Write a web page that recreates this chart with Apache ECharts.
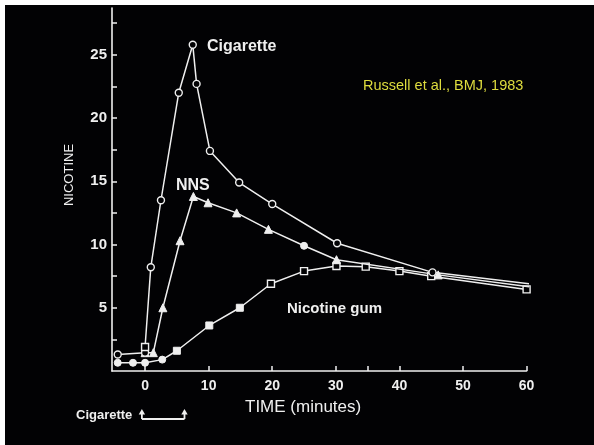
<!DOCTYPE html>
<html>
<head>
<meta charset="utf-8">
<script src="https://cdn.jsdelivr.net/npm/echarts@6/dist/echarts.min.js"></script>
<style>
  html, body { margin: 0; padding: 0; background: #fff; }
  #chart {
    width: 594px; height: 445px;
    background: linear-gradient(#020204, #020204) 5px 5px / 589px 440px no-repeat, #fff;
  }
</style>
</head>
<body>
<div id="chart"></div>
<script>
// Plasma nicotine after a cigarette, nasal nicotine solution and nicotine gum
// Each point: [time in minutes, nicotine concentration]
const cigarette = [
  [-4.3, 1.3], [0, 1.45], [0, 1.9], [0.9, 8.2], [2.5, 13.5], [5.3, 22.0],
  [7.5, 25.8], [8.1, 22.7], [10.2, 17.4], [14.8, 14.9], [20.0, 13.2],
  [30.2, 10.1], [45.2, 7.8], [60.4, 6.9]
];
const nns = [
  [0, 1.45], [1.3, 1.45], [2.8, 5.0], [5.5, 10.3], [7.6, 13.8], [9.9, 13.3],
  [14.4, 12.5], [19.4, 11.2], [25.0, 9.9], [30.1, 8.8], [46.1, 7.6], [61.2, 6.6]
];
const nicotineGum = [
  [-4.3, 0.65], [-1.9, 0.65], [0, 0.65], [2.7, 0.9], [5.0, 1.6], [10.1, 3.6],
  [14.9, 5.0], [19.8, 6.9], [25.0, 7.9], [30.1, 8.3], [34.7, 8.25],
  [40.0, 7.9], [45.0, 7.5], [60.0, 6.45]
];
// Symbol kinds per point
const cigaretteMarks = ['o','o','s','o','o','o','o','o','o','o','o','o','o','o'];
const nnsMarks = ['T','T','T','T','T','T','T','T','C','T','T','T'];
const gumMarks = ['C','C','C','C','S','S','S','s','s','s','s','s','s','s'];

const xTicks = [0, 10, 20, 30, 35, 40, 50, 60];
const xLabels = [0, 10, 20, 30, 40, 50, 60];
const yTicks = [2.5, 5, 7.5, 10, 12.5, 15, 17.5, 20, 22.5, 25, 27.5];
const yLabels = [5, 10, 15, 20, 25];
const smokingPeriod = [-0.5, 6.2];

const INK = '#efefef';
const BG = '#020204';
const FONT = '"Liberation Sans", Arial, Helvetica, sans-serif';

function styled(points, marks) {
  return points.map((p, i) => {
    const m = marks[i];
    const item = { value: p };
    if (m === 'o') { item.symbol = 'circle'; item.symbolSize = 7; item.itemStyle = { color: BG, borderColor: INK, borderWidth: 1.4 }; }
    if (m === 'C') { item.symbol = 'circle'; item.symbolSize = 7; item.itemStyle = { color: INK, borderColor: INK, borderWidth: 1 }; }
    if (m === 's') { item.symbol = 'rect'; item.symbolSize = 7; item.itemStyle = { color: BG, borderColor: INK, borderWidth: 1.4 }; }
    if (m === 'S') { item.symbol = 'rect'; item.symbolSize = 7; item.itemStyle = { color: INK, borderColor: INK, borderWidth: 1 }; }
    if (m === 'T') { item.symbol = 'triangle'; item.symbolSize = 8; item.itemStyle = { color: INK, borderColor: INK, borderWidth: 1 }; }
    return item;
  });
}

function lineSeries(name, points, marks, z) {
  return {
    name, type: 'line', z,
    data: styled(points, marks),
    lineStyle: { color: INK, width: 1.5 },
    emphasis: { disabled: true },
    animation: false
  };
}

const chart = echarts.init(document.getElementById('chart'), null, { renderer: 'canvas' });

const axisText = { color: INK, fontFamily: FONT, fontWeight: 'bold' };

chart.setOption({
  backgroundColor: 'transparent',
  animation: false,
  grid: { left: 112, right: 67.4, top: 8, bottom: 74 },
  xAxis: {
    type: 'value', min: -5.2, max: 60,
    axisLine: { show: true, onZero: false, lineStyle: { color: INK, width: 1.6 } },
    axisTick: { show: true, inside: true, length: 5, customValues: xTicks, lineStyle: { color: INK, width: 1.5 } },
    axisLabel: { ...axisText, fontSize: 14, margin: 8, customValues: xLabels },
    splitLine: { show: false }
  },
  yAxis: {
    type: 'value', min: 0, max: 28.7,
    axisLine: { show: true, onZero: false, lineStyle: { color: INK, width: 1.6 } },
    axisTick: { show: true, inside: true, length: 5, customValues: yTicks, lineStyle: { color: INK, width: 1.5 } },
    axisLabel: { ...axisText, fontSize: 15, margin: 5, customValues: yLabels },
    splitLine: { show: false }
  },
  series: [
    lineSeries('Nicotine gum', nicotineGum, gumMarks, 3),
    lineSeries('NNS', nns, nnsMarks, 4),
    lineSeries('Cigarette', cigarette, cigaretteMarks, 5)
  ]
});

// Smoking-period bracket below the time axis, plus titles and annotations
const xL = chart.convertToPixel({ xAxisIndex: 0 }, smokingPeriod[0]);
const xR = chart.convertToPixel({ xAxisIndex: 0 }, smokingPeriod[1]);
const tipY = 409, baseY = 419;
function arrow(x) {
  return [
    { type: 'line', shape: { x1: x, y1: tipY + 3, x2: x, y2: baseY }, style: { stroke: INK, lineWidth: 1.8 } },
    { type: 'polygon', shape: { points: [[x, tipY], [x - 3.2, tipY + 5.5], [x + 3.2, tipY + 5.5]] }, style: { fill: INK } }
  ];
}
function text(x, y, str, size, weight, color, extra) {
  return Object.assign({
    type: 'text', x, y,
    style: { text: str, fill: color || INK, font: `${weight} ${size}px ${FONT}`, textVerticalAlign: 'middle', textAlign: 'left' }
  }, extra || {});
}

chart.setOption({
  graphic: [
    ...arrow(xL), ...arrow(xR),
    { type: 'line', shape: { x1: xL, y1: baseY, x2: xR, y2: baseY }, style: { stroke: INK, lineWidth: 1.8 } },
    text(76, 415, 'Cigarette', 13, 'bold'),
    text(207, 47, 'Cigarette', 16, 'bold'),
    text(176, 186, 'NNS', 16, 'bold'),
    text(287, 309, 'Nicotine gum', 15, 'bold'),
    text(363, 86, 'Russell et al., BMJ, 1983', 14.5, 'normal', '#dedc3e'),
    text(245, 407, 'TIME (minutes)', 17, 'normal'),
    {
      type: 'text', x: 69, y: 175, rotation: Math.PI / 2,
      style: { text: 'NICOTINE', fill: INK, font: `normal 13px ${FONT}`, textAlign: 'center', textVerticalAlign: 'middle' }
    }
  ]
});
</script>
</body>
</html>
